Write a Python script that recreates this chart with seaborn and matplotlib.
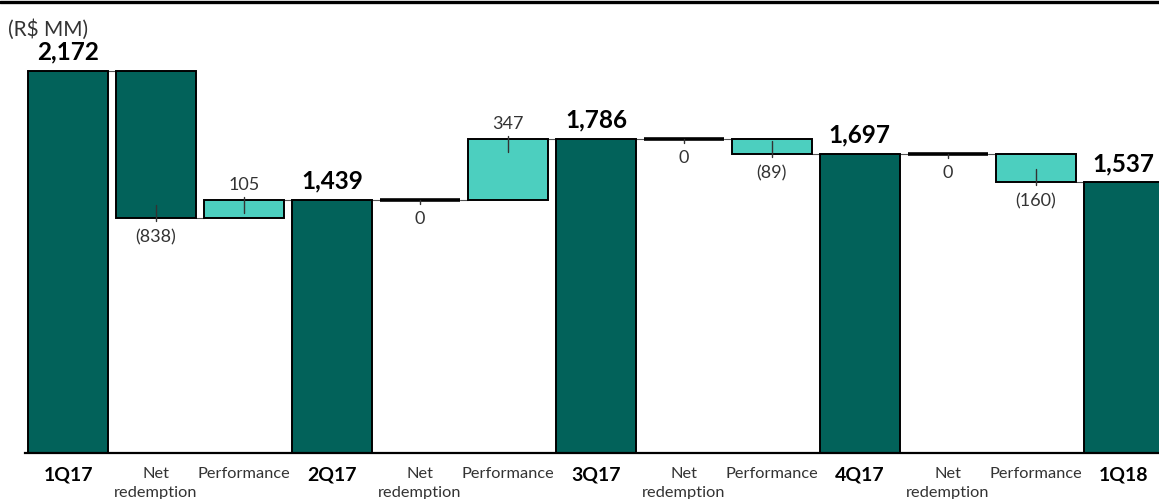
import numpy as np
import pandas as pd
import seaborn as sns
import matplotlib.pyplot as plt
from matplotlib.lines import Line2D

# Assets under management bridge, quarter by quarter (R$ MM)
categories = ["1Q17", "Net\nredemption", "Performance", "2Q17",
              "Net\nredemption", "Performance", "3Q17",
              "Net\nredemption", "Performance", "4Q17",
              "Net\nredemption", "Performance", "1Q18"]
kinds = ["total", "delta", "delta", "total",
         "delta", "delta", "total",
         "delta", "delta", "total",
         "delta", "delta", "total"]
values = [2172, -838, 105, 1439, 0, 347, 1786, 0, -89, 1697, 0, -160, 1537]

DARK = "#02625A"
LIGHT = "#4CCFBF"
BAR_W = 0.909

sns.set_theme(style="white")
plt.rcParams["font.family"] = ["Lato", "DejaVu Sans"]

# Build bar geometry for the waterfall
bottoms, heights, levels = [], [], []
running = 0
for k, v in zip(kinds, values):
    if k == "total":
        bottoms.append(0)
        heights.append(v)
        running = v
    else:
        bottoms.append(min(running, running + v))
        heights.append(abs(v))
        running += v
    levels.append(running)

keys = [f"c{i}" for i in range(len(categories))]
df = pd.DataFrame({"key": keys, "kind": kinds, "value": values,
                   "bottom": bottoms, "height": heights})
tot = df[df.kind == "total"]
dlt = df[df.kind == "delta"]

fig = plt.figure(figsize=(11.59, 4.99), dpi=100)
ax = fig.add_axes([25 / 1159, 1 - 453 / 499, 1 - 25 / 1159, 451 / 499])

sns.barplot(data=tot, x="key", y="height", order=keys, color=DARK,
            width=BAR_W, edgecolor="black", linewidth=1.4, errorbar=None,
            saturation=1, ax=ax)
sns.barplot(data=dlt, x="key", y="height", order=keys, color=LIGHT,
            width=BAR_W, edgecolor="black", linewidth=1.4, errorbar=None,
            saturation=1, bottom=dlt["bottom"].to_numpy(), ax=ax)

# Zero changes show as a thick line
for p in ax.patches:
    if abs(p.get_height()) < 1e-9:
        p.set_linewidth(2.6)

# Net redemption bars take the darker colour
for i, (k, v) in enumerate(zip(kinds, values)):
    if k == "delta" and i % 3 == 1 and v != 0:
        for p in ax.patches:
            if abs(p.get_x() + p.get_width() / 2 - i) < 1e-6 and abs(p.get_height()) > 0:
                p.set_facecolor(DARK)

ax.set_xlim(-0.489, 12.40)
ymax = 2562
ax.set_ylim(0, ymax)
px = ymax / 451.0  # data units per pixel

# Connector lines between neighbouring bars
for i in range(len(values) - 1):
    ax.plot([i + BAR_W / 2, i + 1 - BAR_W / 2], [levels[i], levels[i]],
            color="#555555", lw=0.8, zorder=0.5)

# Value labels with short leader ticks
LBL = 13
for i, (k, v) in enumerate(zip(kinds, values)):
    b, h = bottoms[i], heights[i]
    if k == "total":
        ax.text(i, b + h + 19 * px, f"{v:,}", ha="center", va="center",
                fontsize=17.5, fontweight="bold", color="black")
        continue
    if v > 0:
        top = b + h
        ax.plot([i, i], [top + 3 * px, top - 13 * px], color="#333333", lw=1, zorder=3)
        ax.text(i, top + 15 * px, f"{v:,}", ha="center", va="center",
                fontsize=LBL, color="#333333")
    elif v < 0:
        ax.plot([i, i], [b + 13 * px, b - 3 * px], color="#333333", lw=1, zorder=3)
        ax.text(i, b - 19 * px, f"({abs(v):,})", ha="center", va="center",
                fontsize=LBL, color="#333333")
    else:
        ax.plot([i, i], [b, b - 4 * px], color="#333333", lw=1, zorder=3)
        ax.text(i, b - 19 * px, "0", ha="center", va="center",
                fontsize=LBL, color="#333333")

# Axes styling
for s in ["top", "right", "left"]:
    ax.spines[s].set_visible(False)
ax.spines["bottom"].set_color("black")
ax.spines["bottom"].set_linewidth(1.6)
ax.set_yticks([])
ax.set_xlabel("")
ax.set_ylabel("")
ax.set_xticks(range(len(categories)))
ax.set_xticklabels(categories)
ax.tick_params(axis="x", length=0, pad=10)
for lbl, k in zip(ax.get_xticklabels(), kinds):
    if k == "total":
        lbl.set_fontweight("bold")
        lbl.set_fontsize(14)
        lbl.set_color("black")
    else:
        lbl.set_fontsize(11.8)
        lbl.set_color("#333333")
        lbl.set_linespacing(1.45)

fig.add_artist(Line2D([0, 1], [1 - 2 / 499, 1 - 2 / 499], transform=fig.transFigure,
                      color="black", lw=2.4))
fig.text(8 / 1159, 1 - 30 / 499, "(R$ MM)", ha="left", va="center",
         fontsize=15, color="#333333")

fig.savefig("out.png", dpi=100)
